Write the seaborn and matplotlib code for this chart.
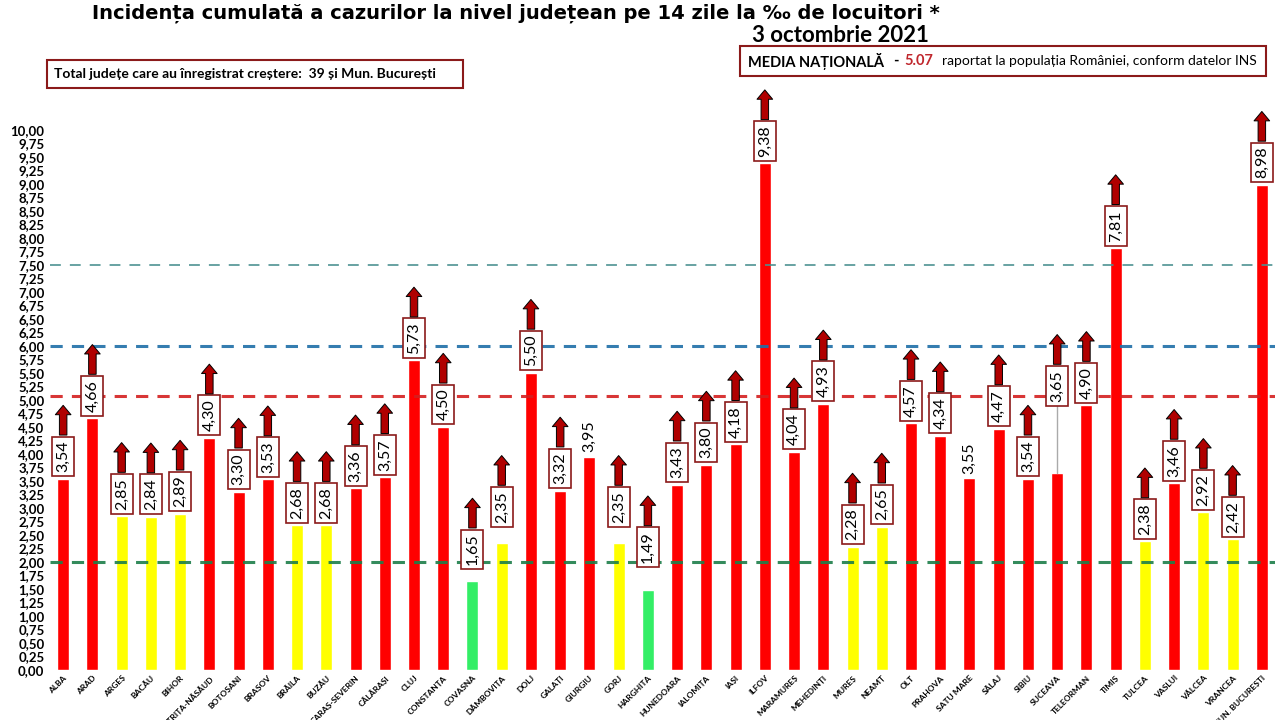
import numpy as np
import pandas as pd
import seaborn as sns
import matplotlib.pyplot as plt
from matplotlib.patches import Rectangle

# county names and incidence values (per 1000 inhabitants, 14 days)
counties = ["ALBA", "ARAD", "ARGEȘ", "BACĂU", "BIHOR", "BISTRIȚA-NĂSĂUD", "BOTOȘANI",
            "BRAȘOV", "BRĂILA", "BUZĂU", "CARAȘ-SEVERIN", "CĂLĂRAȘI", "CLUJ", "CONSTANȚA",
            "COVASNA", "DÂMBOVIȚA", "DOLJ", "GALAȚI", "GIURGIU", "GORJ", "HARGHITA",
            "HUNEDOARA", "IALOMIȚA", "IAȘI", "ILFOV", "MARAMUREȘ", "MEHEDINȚI", "MUREȘ",
            "NEAMȚ", "OLT", "PRAHOVA", "SATU MARE", "SĂLAJ", "SIBIU", "SUCEAVA",
            "TELEORMAN", "TIMIȘ", "TULCEA", "VASLUI", "VÂLCEA", "VRANCEA", "MUN. BUCUREȘTI"]
values = [3.54, 4.66, 2.85, 2.84, 2.89, 4.30, 3.30, 3.53, 2.68, 2.68, 3.36, 3.57, 5.73, 4.50,
          1.65, 2.35, 5.50, 3.32, 3.95, 2.35, 1.49, 3.43, 3.80, 4.18, 9.38, 4.04, 4.93, 2.28,
          2.65, 4.57, 4.34, 3.55, 4.47, 3.54, 3.65, 4.90, 7.81, 2.38, 3.46, 2.92, 2.42, 8.98]
# counties without an increase (no arrow)
no_increase = ["GIURGIU", "SATU MARE"]

national_avg = 5.07
thresholds = [2.0, 6.0, 7.5]

df = pd.DataFrame({"judet": counties, "incidenta": values})


def bar_color(v):
    if v < 2:
        return "#33EE66"
    if v < 3:
        return "#FFFF00"
    return "#FF0000"


palette = {c: bar_color(v) for c, v in zip(counties, values)}

sns.set_style("white")
plt.rcParams["font.family"] = ["Lato", "DejaVu Sans"]
plt.rcParams["text.color"] = "black"
plt.rcParams["xtick.color"] = "black"
plt.rcParams["ytick.color"] = "black"

fig = plt.figure(figsize=(12.8, 7.2), dpi=100)
ax = fig.add_axes([50 / 1280, 50 / 720, 1225 / 1280, 578 / 720])

sns.barplot(data=df, x="judet", y="incidenta", hue="judet", palette=palette,
            legend=False, width=0.41, saturation=1, ax=ax, zorder=2)

ax.set_xlim(-0.45, len(counties) - 0.55)
ax.set_ylim(0, 10.7)
sns.despine(ax=ax, left=True, bottom=True)
ax.set_xlabel("")
ax.set_ylabel("")

yt = np.arange(0, 10.01, 0.25)
ax.set_yticks(yt)
ax.set_yticklabels([f"{t:.2f}".replace(".", ",") for t in yt], fontsize=9.5, fontweight="bold")
ax.tick_params(axis="y", length=0, pad=4)
ax.tick_params(axis="x", length=0, pad=3)
ax.set_xticks(range(len(counties)))
ax.set_xticklabels(counties, rotation=45, ha="right", rotation_mode="anchor",
                   fontsize=6, fontweight="bold")

# reference lines
ax.axhline(thresholds[0], color="#1E7F4A", lw=2.2, ls=(0, (4, 3)), zorder=3, alpha=0.9)
ax.axhline(national_avg, color="#D42020", lw=2.2, ls=(0, (4, 3)), zorder=3, alpha=0.9)
ax.axhline(thresholds[1], color="#1F6FA8", lw=2.2, ls=(0, (4, 3)), zorder=3, alpha=0.9)
ax.axhline(thresholds[2], color="#4A9090", lw=1.3, ls=(0, (6, 5)), zorder=3, alpha=0.9)

# extra lift for a few labels
label_lift = {"COVASNA": 0.17, "DÂMBOVIȚA": 0.26, "GORJ": 0.26, "HARGHITA": 0.37,
              "SUCEAVA": 1.2}

labels = []
for i, (c, v) in enumerate(zip(counties, values)):
    txt = f"{v:.2f}".replace(".", ",")
    y0 = v + 0.06 + label_lift.get(c, 0)
    if c in no_increase:
        t = ax.text(i, v + 0.08, txt, rotation=90, ha="center", va="bottom",
                    fontsize=11.5, zorder=5)
        labels.append((i, None))
    else:
        t = ax.text(i, y0 + 0.06, txt, rotation=90, ha="center", va="bottom",
                    fontsize=11.5, zorder=5,
                    bbox=dict(boxstyle="square,pad=0.25", fc="white", ec="#8B1A1A", lw=1.2))
        labels.append((i, t))
        if c in label_lift and label_lift[c] > 0.5:
            ax.plot([i, i], [v, y0], color="#AAAAAA", lw=1, zorder=4)

fig.canvas.draw()
inv = ax.transData.inverted()
for i, t in labels:
    if t is None:
        continue
    ext = t.get_bbox_patch().get_window_extent()
    top = inv.transform((ext.x0, ext.y1))[1]
    ax.annotate("", xy=(i, top + 0.58), xytext=(i, top + 0.03),
                arrowprops=dict(arrowstyle="simple,head_width=0.75,head_length=0.45,tail_width=0.36",
                                fc="#B00000", ec="black", lw=0.7, mutation_scale=15,
                                shrinkA=0, shrinkB=0),
                zorder=6, annotation_clip=False)

# titles and boxes
fig.text(516 / 1280, 1 - 13 / 720,
         "Incidența cumulată a cazurilor la nivel județean pe 14 zile la ‰ de locuitori *",
         ha="center", va="center", fontsize=14, fontweight="bold",
         family=["DejaVu Sans"])
fig.text(840 / 1280, 1 - 35 / 720, "3 octombrie 2021", ha="center", va="center",
         fontsize=16, fontweight="bold")

fig.patches.append(Rectangle((47 / 1280, 1 - 88 / 720), 416 / 1280, 28 / 720,
                             transform=fig.transFigure, fc="white", ec="#8B1A1A", lw=1.5))
fig.text(54 / 1280, 1 - 74 / 720,
         "Total județe care au înregistrat creștere:  39 și Mun. București",
         ha="left", va="center", fontsize=10, fontweight="bold")

fig.patches.append(Rectangle((740 / 1280, 1 - 76 / 720), 526 / 1280, 30 / 720,
                             transform=fig.transFigure, fc="white", ec="#8B1A1A", lw=1.5))
fig.text(748 / 1280, 1 - 61 / 720, "MEDIA NAȚIONALĂ", ha="left", va="center",
         fontsize=10.5, fontweight="bold")
fig.text(893 / 1280, 1 - 61 / 720, "-", ha="left", va="center", fontsize=10.5, fontweight="bold")
fig.text(904 / 1280, 1 - 61 / 720, f"{national_avg:.2f}", ha="left", va="center",
         fontsize=10.5, fontweight="bold", color="#C0272D")
fig.text(942 / 1280, 1 - 61 / 720, "raportat la populația României, conform datelor INS",
         ha="left", va="center", fontsize=10)

fig.savefig("out.png", dpi=100)
